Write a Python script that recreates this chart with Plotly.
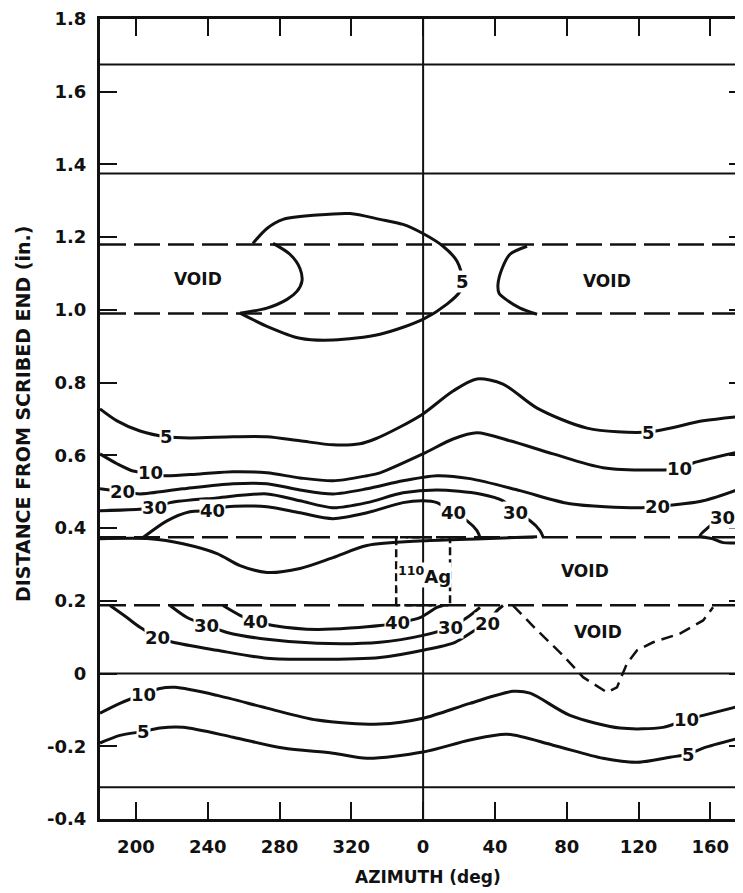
import plotly.graph_objects as go

# Azimuth is placed on a continuous scale: 180..360 then 0..180 shown as 360..540
x_tick_vals = [200, 240, 280, 320, 360, 400, 440, 480, 520]
x_tick_text = ["200", "240", "280", "320", "0", "40", "80", "120", "160"]
y_tick_vals = [-0.4, -0.2, 0.0, 0.2, 0.4, 0.6, 0.8, 1.0, 1.2, 1.4, 1.6, 1.8]
y_tick_text = ["-0.4", "-0.2", "0", "0.2", "0.4", "0.6", "0.8", "1.0", "1.2", "1.4", "1.6", "1.8"]

# horizontal reference lines (distance from scribed end, in.)
solid_levels = [1.675, 1.375, 0.0, -0.3125]
void_levels = [1.18, 0.99, 0.375, 0.1875]
zero_azimuth = 360

# --- contour lines (azimuth deg, distance in.) ---
c5_up_az = [180.0, 189.5, 202.3, 217.3, 230.1, 254.1, 273.0, 291.4, 309.8, 324.8, 333.2, 347.1, 359.9, 376.7, 390.0, 404.5, 423.5, 451.3, 485.3, 516.0, 538.2]
c5_up_d = [0.728, 0.695, 0.667, 0.651, 0.648, 0.651, 0.651, 0.640, 0.629, 0.632, 0.645, 0.678, 0.714, 0.777, 0.810, 0.796, 0.730, 0.675, 0.664, 0.695, 0.708]

c10_up_az = [180.0, 189.5, 198.4, 207.9, 215.1, 235.7, 254.1, 273.0, 291.4, 309.8, 328.7, 336.0, 359.9, 376.7, 390.0, 408.4, 432.4, 460.2, 493.6, 502.6, 510.4, 538.2]
c10_up_d = [0.604, 0.577, 0.557, 0.552, 0.544, 0.549, 0.555, 0.552, 0.538, 0.530, 0.544, 0.552, 0.604, 0.645, 0.662, 0.640, 0.604, 0.566, 0.560, 0.563, 0.579, 0.612]

c20_up_az = [180.0, 192.8, 202.3, 226.2, 254.1, 273.0, 291.4, 309.8, 328.7, 348.8, 367.7, 386.1, 414.0, 441.8, 479.2, 490.3, 516.0, 538.2]
c20_up_d = [0.508, 0.500, 0.494, 0.508, 0.522, 0.522, 0.505, 0.494, 0.508, 0.530, 0.544, 0.536, 0.503, 0.467, 0.456, 0.459, 0.475, 0.511]

c30_up_az = [180.0, 210.6, 219.0, 245.2, 273.0, 291.4, 309.8, 328.7, 348.8, 367.7, 391.7, 404.5, 411.2, 419.6, 425.1, 426.8]
c30_up_d = [0.448, 0.456, 0.470, 0.483, 0.494, 0.475, 0.456, 0.470, 0.497, 0.505, 0.494, 0.475, 0.442, 0.420, 0.393, 0.376]

c40_up_az = [204.0, 217.3, 230.1, 242.4, 250.8, 273.0, 291.4, 309.8, 328.7, 348.8, 359.9, 367.7, 376.7, 384.5, 390.0, 391.7]
c40_up_d = [0.374, 0.420, 0.445, 0.448, 0.459, 0.459, 0.442, 0.426, 0.442, 0.470, 0.475, 0.470, 0.442, 0.420, 0.393, 0.374]

edge_az = [180.0, 207.9, 226.2, 245.2, 258.0, 273.0, 291.4, 309.8, 328.7, 359.9, 393.4, 423.5]
edge_d = [0.371, 0.371, 0.357, 0.330, 0.297, 0.278, 0.289, 0.319, 0.352, 0.365, 0.371, 0.376]

c30_right_az = [538.2, 526.5, 518.7, 514.3, 520.9, 527.1, 538.2]
c30_right_d = [0.453, 0.429, 0.401, 0.379, 0.371, 0.360, 0.360]

c20_lo_az = [185.6, 195.0, 202.3, 212.3, 220.7, 245.2, 273.0, 300.9, 336.0, 359.9, 377.8, 388.9, 395.6, 401.2, 404.5]
c20_lo_d = [0.187, 0.154, 0.127, 0.099, 0.086, 0.064, 0.042, 0.039, 0.044, 0.064, 0.086, 0.119, 0.138, 0.173, 0.187]

c30_lo_az = [219.0, 228.5, 239.6, 250.8, 273.0, 300.9, 336.0, 359.9, 375.0, 384.5, 391.7]
c30_lo_d = [0.187, 0.154, 0.132, 0.113, 0.094, 0.083, 0.086, 0.105, 0.127, 0.154, 0.182]

c40_lo_az = [248.5, 258.0, 266.4, 276.4, 300.9, 336.0, 346.0, 358.3, 367.7, 371.1]
c40_lo_d = [0.187, 0.160, 0.143, 0.132, 0.121, 0.132, 0.140, 0.154, 0.182, 0.187]

void_lo_az = [410.1, 423.5, 437.9, 449.1, 462.5, 468.0, 473.6, 479.2, 488.1, 503.1, 516.0, 521.5]
void_lo_d = [0.187, 0.119, 0.050, -0.010, -0.052, -0.038, 0.028, 0.064, 0.086, 0.110, 0.146, 0.182]

c10_lo_az = [180.0, 191.1, 204.0, 213.4, 221.8, 245.2, 273.0, 300.9, 336.0, 359.9, 386.1, 410.1, 419.6, 441.8, 469.7, 493.6, 507.0, 516.0, 538.2]
c10_lo_d = [-0.109, -0.082, -0.057, -0.041, -0.038, -0.060, -0.095, -0.128, -0.139, -0.123, -0.082, -0.049, -0.054, -0.115, -0.150, -0.148, -0.126, -0.115, -0.087]

c5_lo_az = [180.0, 191.1, 204.5, 213.4, 226.2, 254.1, 282.0, 309.8, 328.7, 359.9, 386.1, 406.7, 432.4, 460.2, 479.2, 497.5, 507.6, 516.0, 538.2]
c5_lo_d = [-0.191, -0.170, -0.159, -0.150, -0.148, -0.175, -0.205, -0.219, -0.233, -0.216, -0.183, -0.167, -0.197, -0.233, -0.244, -0.230, -0.222, -0.205, -0.175]

loop5_az = [265.2, 273.0, 282.0, 300.9, 319.3, 336.0, 348.8, 359.9, 371.1, 378.9, 382.2, 380.6, 373.3, 359.9, 336.0, 309.8, 291.4, 273.0, 258.0]
loop5_d = [1.183, 1.224, 1.249, 1.261, 1.265, 1.249, 1.235, 1.210, 1.175, 1.134, 1.079, 1.051, 1.016, 0.974, 0.933, 0.917, 0.922, 0.955, 0.991]

void_left_az = [258.0, 273.0, 284.2, 289.7, 292.5, 291.4, 285.8, 276.4]
void_left_d = [0.991, 1.005, 1.029, 1.051, 1.079, 1.114, 1.153, 1.183]

void_right_az = [417.9, 408.4, 404.0, 401.7, 402.3, 406.7, 414.0, 423.5]
void_right_d = [1.175, 1.153, 1.114, 1.070, 1.046, 1.027, 1.005, 0.988]

ag_box_az = [345, 345, 375, 375, 345]
ag_box_d = [0.1875, 0.375, 0.375, 0.1875, 0.1875]

# contour labels: (text, azimuth, distance)
label_text = ["5", "10", "20", "30", "40", "5", "10", "20", "30", "40", "30",
              "20", "30", "40", "40", "30", "20", "10", "5", "10", "5", "5"]
label_az = [217.3, 207.9, 192.8, 210.6, 242.4, 485.3, 502.6, 490.3, 526.5, 376.7, 411.2,
            212.3, 239.6, 266.4, 346.0, 375.0, 395.6, 204.0, 204.5, 507.0, 507.6, 382.2]
label_d = [0.651, 0.552, 0.500, 0.456, 0.448, 0.664, 0.563, 0.459, 0.429, 0.442, 0.442,
           0.099, 0.132, 0.143, 0.140, 0.127, 0.138, -0.057, -0.159, -0.126, -0.222, 1.079]

void_text_az = [234.6, 462.5, 450.2, 457.4]
void_text_d = [1.084, 1.079, 0.283, 0.113]

X0, X1 = 180, 538.2
INK = "#111111"

fig = go.Figure()

def curve(az, d, width=3, dash=None, shape="spline"):
    line = dict(color=INK, width=width, shape=shape)
    if shape == "spline":
        line["smoothing"] = 0.8
    if dash:
        line["dash"] = dash
    fig.add_trace(go.Scatter(x=az, y=d, mode="lines", line=line,
                             hoverinfo="skip", showlegend=False))

# solid boundaries
for i, lv in enumerate(solid_levels):
    fig.add_trace(go.Scatter(x=[X0, X1], y=[lv, lv], mode="lines",
                             line=dict(color=INK, width=2), hoverinfo="skip",
                             showlegend=False, yaxis="y2" if i == 2 else "y"))
# void boundaries (dashed)
for lv in void_levels:
    curve([X0, X1], [lv, lv], width=2.5, dash="26px,8px", shape="linear")
# zero azimuth line
curve([zero_azimuth, zero_azimuth], [-0.4, 1.8], width=2, shape="linear")

for az, d in [(c5_up_az, c5_up_d), (c10_up_az, c10_up_d), (c20_up_az, c20_up_d),
              (c30_up_az, c30_up_d), (c40_up_az, c40_up_d), (edge_az, edge_d),
              (c30_right_az, c30_right_d), (c20_lo_az, c20_lo_d), (c30_lo_az, c30_lo_d),
              (c40_lo_az, c40_lo_d), (c10_lo_az, c10_lo_d), (c5_lo_az, c5_lo_d),
              (loop5_az, loop5_d), (void_left_az, void_left_d), (void_right_az, void_right_d)]:
    curve(az, d)

curve(void_lo_az, void_lo_d, width=2.5, dash="12px,7px", shape="linear")
curve(ag_box_az, ag_box_d, width=2.5, dash="8px,4px", shape="linear")

FONT = dict(family="DejaVu Sans", size=18, color=INK, weight="bold")

ann = []
for t, a, d in zip(label_text, label_az, label_d):
    ann.append(dict(x=a, y=d, xref="x", yref="y", text=t, showarrow=False,
                    font=FONT, bgcolor="white", borderpad=0))
for a, d in zip(void_text_az, void_text_d):
    ann.append(dict(x=a, y=d, xref="x", yref="y", text="VOID", showarrow=False,
                    font=dict(family="DejaVu Sans", size=17, color=INK, weight="bold")))
ann.append(dict(x=360.5, y=0.272, xref="x", yref="y", text="<sup>110</sup>Ag",
                showarrow=False, font=FONT, bgcolor="white", borderpad=0))
ann.append(dict(x=(428 - 100) / 643, y=-(877 - 819) / 802, xref="paper", yref="paper",
                text="AZIMUTH (deg)", showarrow=False, yanchor="middle",
                font=dict(family="DejaVu Sans", size=17, color=INK, weight="bold")))
ann.append(dict(x=-(100 - 23) / 643, y=(819 - 413) / 802, xref="paper", yref="paper",
                text="DISTANCE FROM SCRIBED END (in.)", showarrow=False, textangle=-90,
                xanchor="center", yanchor="middle",
                font=dict(family="DejaVu Sans", size=19, color=INK, weight="bold")))

# the page body has an 8px margin, so the figure is offset by 8px right and down
fig.update_layout(
    width=735, height=885,
    margin=dict(l=92, r=0, t=9, b=74),
    paper_bgcolor="white", plot_bgcolor="white",
    showlegend=False,
    annotations=ann,
    xaxis=dict(range=[X0, X1], tickvals=x_tick_vals, ticktext=x_tick_text,
               ticks="inside", ticklen=17, tickwidth=2, tickcolor=INK,
               showline=True, linewidth=2.5, linecolor=INK, mirror="ticks",
               showgrid=False, zeroline=False, tickfont=FONT, ticklabelstandoff=10,
               ticklabeloverflow="allow"),
    yaxis=dict(range=[-0.4, 1.8], tickvals=y_tick_vals, ticktext=y_tick_text,
               ticks="inside", ticklen=17, tickwidth=2, tickcolor=INK,
               showline=True, linewidth=3, linecolor=INK,
               showgrid=False, zeroline=False, tickfont=FONT, ticklabelstandoff=7,
               ticklabeloverflow="allow"),
    yaxis2=dict(range=[-0.4, 1.8], tickvals=y_tick_vals, overlaying="y", side="right",
                ticks="inside", ticklen=14, tickwidth=2, tickcolor=INK,
                showline=False, showticklabels=False, showgrid=False, zeroline=False),
)

fig.write_html("out.html")
